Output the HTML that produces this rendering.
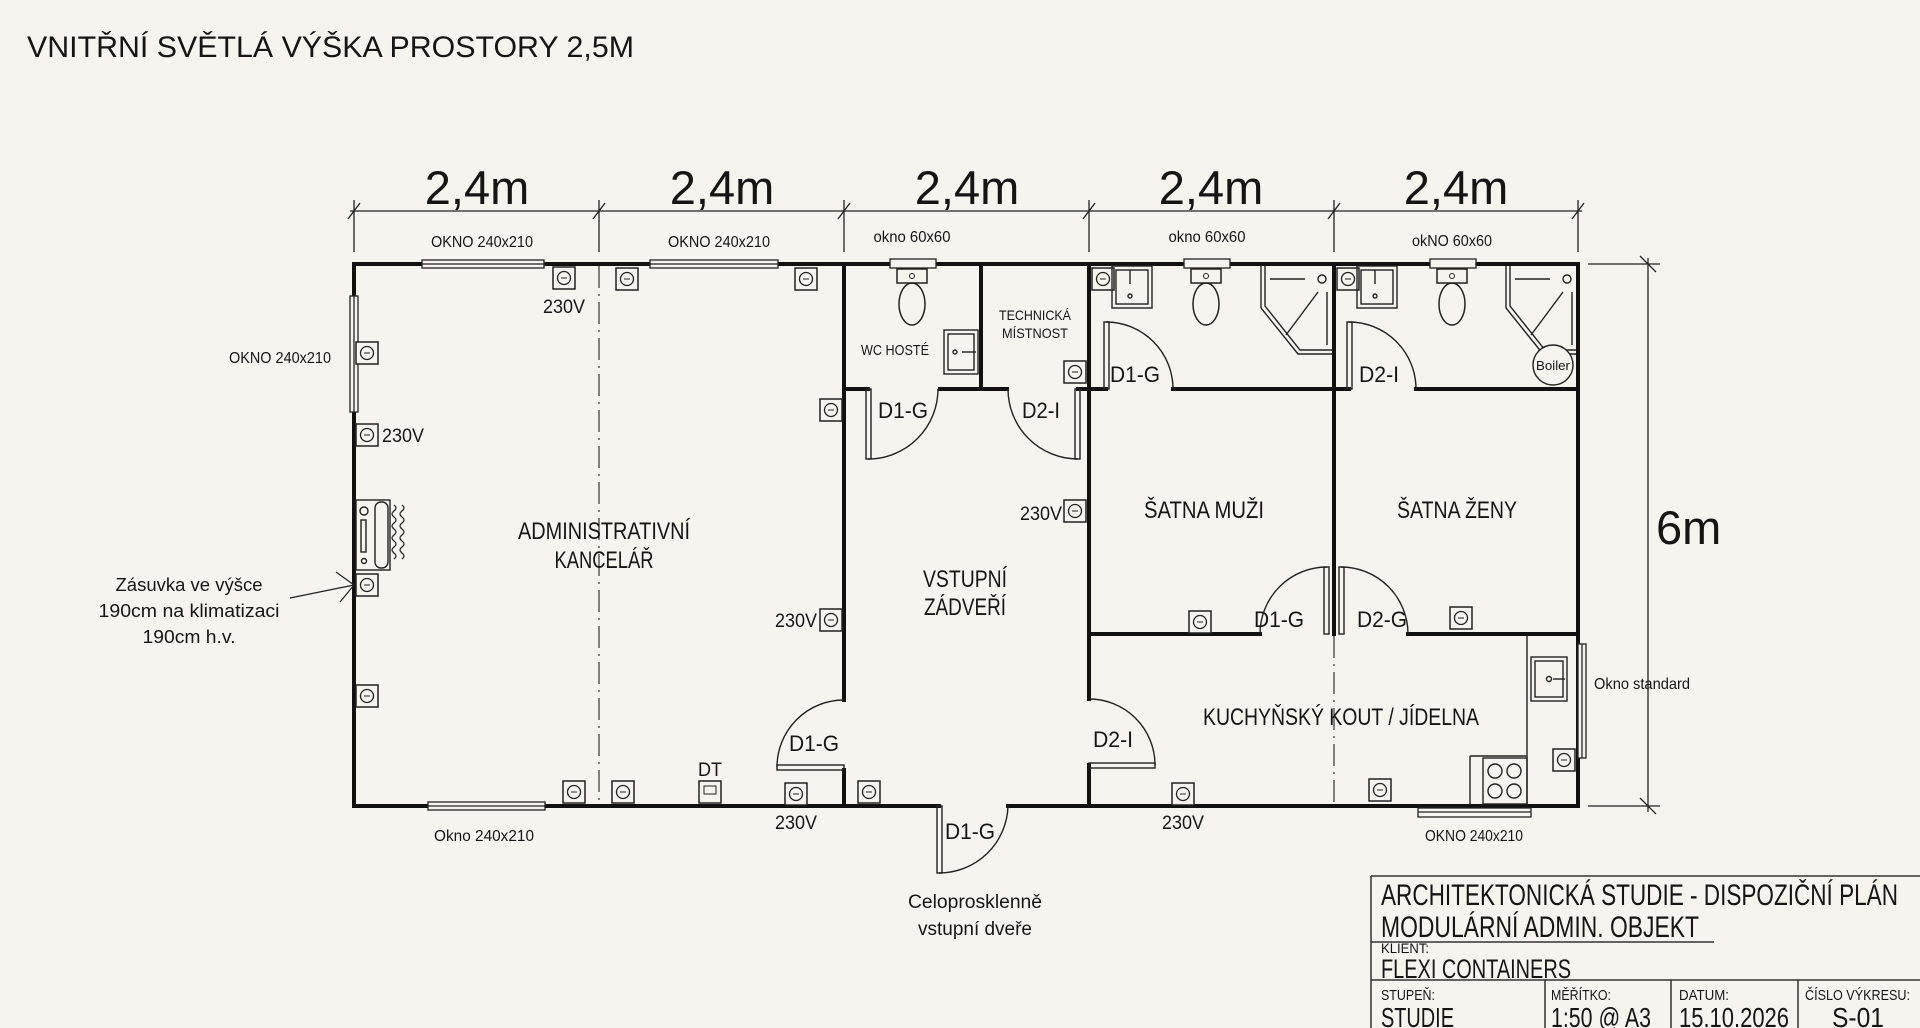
<!DOCTYPE html>
<html><head><meta charset="utf-8"><style>
html,body{margin:0;padding:0;background:#f6f4ef;}
svg{display:block;}
text{font-family:"Liberation Sans",sans-serif;fill:#151515;}
</style></head><body>
<svg width="1920" height="1028" viewBox="0 0 1920 1028" xmlns="http://www.w3.org/2000/svg">
<rect width="1920" height="1028" fill="#f6f4ef"/>
<defs>
<g id="sock"><rect x="-11" y="-11" width="22" height="22" fill="#f6f4ef" stroke="#222" stroke-width="1.5"/><circle r="6.5" fill="none" stroke="#222" stroke-width="1.3"/><line x1="-3" y1="0" x2="3" y2="0" stroke="#222" stroke-width="1"/></g>
<g id="toilet"><rect x="-15" y="-7" width="30" height="14" fill="#f6f4ef" stroke="#222" stroke-width="1.5"/><circle cx="0" cy="0" r="2.5" fill="none" stroke="#222"/><ellipse cx="0" cy="28" rx="13" ry="21" fill="none" stroke="#222" stroke-width="1.5"/></g>
</defs>

<text x="27" y="57" font-size="30" textLength="607" lengthAdjust="spacingAndGlyphs">VNITŘNÍ SVĚTLÁ VÝŠKA PROSTORY 2,5M</text>

<!-- dimension line -->
<g stroke="#222" stroke-width="1.3">
<line x1="350" y1="211" x2="1582" y2="211"/>
<line x1="354" y1="200" x2="354" y2="252"/><line x1="599" y1="200" x2="599" y2="252"/><line x1="844" y1="200" x2="844" y2="252"/><line x1="1089" y1="200" x2="1089" y2="252"/><line x1="1334" y1="200" x2="1334" y2="252"/><line x1="1578" y1="200" x2="1578" y2="252"/>
<line x1="348" y1="219" x2="360" y2="203"/><line x1="593" y1="219" x2="605" y2="203"/><line x1="838" y1="219" x2="850" y2="203"/><line x1="1083" y1="219" x2="1095" y2="203"/><line x1="1328" y1="219" x2="1340" y2="203"/><line x1="1572" y1="219" x2="1584" y2="203"/>
<!-- vertical dim -->
<line x1="1648" y1="258" x2="1648" y2="812"/>
<line x1="1588" y1="264" x2="1660" y2="264"/><line x1="1588" y1="806" x2="1660" y2="806"/>
<line x1="1640" y1="256" x2="1656" y2="272"/><line x1="1640" y1="798" x2="1656" y2="814"/>
</g>
<g font-size="47" text-anchor="middle">
<text x="477" y="204">2,4m</text><text x="722" y="204">2,4m</text><text x="967" y="204">2,4m</text><text x="1211" y="204">2,4m</text><text x="1456" y="204">2,4m</text>
</g>
<text x="1656" y="544" font-size="47">6m</text>

<!-- dash-dot lines -->
<g stroke="#333" stroke-width="1.2" stroke-dasharray="22 6 2 6" fill="none">
<line x1="599" y1="266" x2="599" y2="804"/>
<line x1="1334" y1="636" x2="1334" y2="804"/>
</g>

<!-- walls -->
<g stroke="#111" stroke-width="4" fill="none" stroke-linecap="square">
<line x1="354" y1="264" x2="1578" y2="264"/>
<line x1="354" y1="264" x2="354" y2="806"/>
<line x1="1578" y1="264" x2="1578" y2="806"/>
<line x1="354" y1="806" x2="939" y2="806"/>
<line x1="1008" y1="806" x2="1578" y2="806"/>
<line x1="844" y1="264" x2="844" y2="700"/>
<line x1="844" y1="770" x2="844" y2="806"/>
<line x1="844" y1="389" x2="868" y2="389"/>
<line x1="940" y1="389" x2="1007" y2="389"/>
<line x1="1078" y1="389" x2="1089" y2="389"/>
<line x1="981" y1="264" x2="981" y2="389"/>
<line x1="1089" y1="264" x2="1089" y2="699"/>
<line x1="1089" y1="765" x2="1089" y2="806"/>
<line x1="1089" y1="389" x2="1106" y2="389"/>
<line x1="1173" y1="389" x2="1349" y2="389"/>
<line x1="1416" y1="389" x2="1578" y2="389"/>
<line x1="1334" y1="264" x2="1334" y2="634"/>
<line x1="1089" y1="634" x2="1260" y2="634"/>
<line x1="1408" y1="634" x2="1578" y2="634"/>
</g>

<!-- doors -->
<g stroke="#222" stroke-width="1.4" fill="none">
<!-- D1-G office -->
<rect x="777" y="765" width="67" height="5"/><path d="M844 700 A67 67 0 0 0 777 767"/>
<!-- WC D1-G -->
<rect x="866" y="389" width="5" height="70"/><path d="M868 459 A70 70 0 0 0 938 389"/>
<!-- tech D2-I -->
<rect x="1075" y="389" width="5" height="70"/><path d="M1078 459 A70 70 0 0 1 1008 389"/>
<!-- D2-I kitchen -->
<rect x="1089" y="763" width="66" height="5"/><path d="M1089 699 A66 66 0 0 1 1155 765"/>
<!-- wash D1-G -->
<rect x="1104" y="322" width="5" height="67"/><path d="M1106 322 A67 67 0 0 1 1173 389"/>
<!-- wash D2-I -->
<rect x="1347" y="322" width="5" height="67"/><path d="M1349 322 A67 67 0 0 1 1416 389"/>
<!-- šatna D1-G -->
<rect x="1324" y="567" width="5" height="67"/><path d="M1327 567 A67 67 0 0 0 1260 634"/>
<!-- šatna D2-G -->
<rect x="1339" y="567" width="5" height="67"/><path d="M1341 567 A67 67 0 0 1 1408 634"/>
<!-- entrance -->
<rect x="937" y="806" width="5" height="67"/><path d="M939 873 A69 69 0 0 0 1008 806"/>
</g>

<!-- windows -->
<g fill="#f6f4ef" stroke="#222" stroke-width="1.3">
<rect x="422" y="260" width="122" height="8"/><line x1="422" y1="264" x2="544" y2="264"/>
<rect x="650" y="260" width="128" height="8"/><line x1="650" y1="264" x2="778" y2="264"/>
<rect x="890" y="259" width="46" height="9"/>
<rect x="1184" y="259" width="46" height="9"/>
<rect x="1430" y="259" width="46" height="9"/>
<rect x="350" y="296" width="8" height="116"/><line x1="354" y1="296" x2="354" y2="412"/>
<rect x="428" y="802" width="117" height="8"/><line x1="428" y1="806" x2="545" y2="806"/>
<rect x="1418" y="808" width="113" height="9"/><line x1="1418" y1="812" x2="1531" y2="812"/>
<rect x="1578" y="644" width="8" height="114"/><line x1="1582" y1="644" x2="1582" y2="758"/>
</g>

<!-- sockets -->
<use href="#sock" x="564" y="278"/><use href="#sock" x="627" y="279"/><use href="#sock" x="806" y="279"/>
<use href="#sock" x="367" y="353"/><use href="#sock" x="367" y="435"/><use href="#sock" x="367" y="585"/><use href="#sock" x="367" y="696"/>
<use href="#sock" x="831" y="410"/><use href="#sock" x="831" y="620"/>
<use href="#sock" x="574" y="792"/><use href="#sock" x="623" y="792"/><use href="#sock" x="796" y="794"/><use href="#sock" x="869" y="792"/>
<use href="#sock" x="1075" y="511"/><use href="#sock" x="1075" y="372"/>
<use href="#sock" x="1200" y="622"/><use href="#sock" x="1461" y="618"/>
<use href="#sock" x="1183" y="794"/><use href="#sock" x="1380" y="790"/><use href="#sock" x="1564" y="760"/>
<use href="#sock" x="1103" y="279"/><use href="#sock" x="1348" y="279"/>
<!-- DT -->
<rect x="699" y="781" width="22" height="22" fill="#f6f4ef" stroke="#222" stroke-width="1.5"/><rect x="704" y="786" width="12" height="8" fill="none" stroke="#222"/>

<!-- AC unit -->
<g stroke="#222" stroke-width="1.4" fill="#f6f4ef">
<rect x="356" y="500" width="34" height="70"/>
<rect x="375" y="502" width="13" height="66" rx="6"/>
<rect x="361" y="520" width="5" height="32"/>
<circle cx="364" cy="511" r="4"/>
<circle cx="364" cy="561" r="2.5"/>
</g>
<g stroke="#222" stroke-width="1.2" fill="none">
<path d="M394 505 q4 3 0 6 q-4 3 0 6 q4 3 0 6 q-4 3 0 6 q4 3 0 6 q-4 3 0 6 q4 3 0 6 q-4 3 0 6 q4 3 0 6"/>
<path d="M402 505 q4 3 0 6 q-4 3 0 6 q4 3 0 6 q-4 3 0 6 q4 3 0 6 q-4 3 0 6 q4 3 0 6 q-4 3 0 6 q4 3 0 6"/>
<!-- arrow -->
<line x1="290" y1="598" x2="354" y2="585"/>
<line x1="354" y1="585" x2="336" y2="572"/><line x1="354" y1="585" x2="340" y2="602"/>
</g>

<!-- toilets -->
<use href="#toilet" x="912" y="276"/><use href="#toilet" x="1206" y="276"/><use href="#toilet" x="1452" y="276"/>
<!-- sinks -->
<g stroke="#222" stroke-width="1.4" fill="none">
<rect x="944" y="330" width="34" height="44"/><rect x="948" y="334" width="26" height="36"/><circle cx="955" cy="352" r="2"/><line x1="962" y1="352" x2="976" y2="352"/>
<rect x="1112" y="266" width="40" height="42"/><rect x="1116" y="270" width="32" height="34"/><circle cx="1130" cy="296" r="2"/><line x1="1130" y1="270" x2="1130" y2="284"/>
<rect x="1357" y="266" width="40" height="42"/><rect x="1361" y="270" width="32" height="34"/><circle cx="1375" cy="296" r="2"/><line x1="1375" y1="270" x2="1375" y2="284"/>
<!-- showers -->
<path d="M1261 266 L1261 308 L1298 354 L1332 354"/><path d="M1265 266 L1265 306 L1300 350 L1332 350"/>
<line x1="1270" y1="279" x2="1305" y2="279"/><circle cx="1322" cy="279" r="4"/><line x1="1318" y1="292" x2="1286" y2="335"/><line x1="1327" y1="292" x2="1327" y2="345"/>
<path d="M1506 266 L1506 308 L1543 354 L1576 354"/><path d="M1510 266 L1510 306 L1545 350 L1576 350"/>
<line x1="1515" y1="279" x2="1550" y2="279"/><circle cx="1567" cy="279" r="4"/><line x1="1563" y1="292" x2="1531" y2="335"/><line x1="1572" y1="292" x2="1572" y2="345"/>
<circle cx="1553" cy="365" r="20" fill="#f6f4ef"/>
<!-- kitchen -->
<line x1="1527" y1="636" x2="1527" y2="804"/>
<rect x="1531" y="657" width="36" height="44"/><rect x="1535" y="661" width="28" height="36"/><circle cx="1549" cy="679" r="2.5"/><line x1="1553" y1="679" x2="1565" y2="679"/>
<rect x="1470" y="756" width="0" height="0"/>
<line x1="1470" y1="756" x2="1527" y2="756"/><line x1="1470" y1="756" x2="1470" y2="804"/>
<rect x="1483" y="758" width="44" height="46"/>
<circle cx="1495" cy="771" r="7"/><circle cx="1514" cy="771" r="7"/><circle cx="1495" cy="791" r="7"/><circle cx="1514" cy="791" r="7"/>
</g>

<!-- labels -->
<g font-size="16" text-anchor="middle">
<text x="482" y="247" textLength="102" lengthAdjust="spacingAndGlyphs">OKNO 240x210</text>
<text x="719" y="247" textLength="102" lengthAdjust="spacingAndGlyphs">OKNO 240x210</text>
<text x="912" y="242" textLength="77" lengthAdjust="spacingAndGlyphs">okno 60x60</text>
<text x="1207" y="242" textLength="77" lengthAdjust="spacingAndGlyphs">okno 60x60</text>
<text x="1452" y="246" textLength="80" lengthAdjust="spacingAndGlyphs">okNO 60x60</text>
<text x="484" y="841" textLength="100" lengthAdjust="spacingAndGlyphs">Okno 240x210</text>
<text x="1474" y="841" textLength="98" lengthAdjust="spacingAndGlyphs">OKNO 240x210</text>
</g>
<text x="331" y="363" font-size="16" text-anchor="end" textLength="102" lengthAdjust="spacingAndGlyphs">OKNO 240x210</text>
<text x="1594" y="689" font-size="16" textLength="96" lengthAdjust="spacingAndGlyphs">Okno standard</text>

<g font-size="19">
<text x="564" y="313" text-anchor="middle" textLength="42" lengthAdjust="spacingAndGlyphs">230V</text>
<text x="382" y="442" textLength="42" lengthAdjust="spacingAndGlyphs">230V</text>
<text x="1062" y="520" text-anchor="end" textLength="42" lengthAdjust="spacingAndGlyphs">230V</text>
<text x="817" y="627" text-anchor="end" textLength="42" lengthAdjust="spacingAndGlyphs">230V</text>
<text x="796" y="829" text-anchor="middle" textLength="42" lengthAdjust="spacingAndGlyphs">230V</text>
<text x="1183" y="829" text-anchor="middle" textLength="42" lengthAdjust="spacingAndGlyphs">230V</text>
<text x="710" y="776" text-anchor="middle" textLength="24" lengthAdjust="spacingAndGlyphs">DT</text>
</g>

<g font-size="18" text-anchor="middle">
<text x="189" y="591" textLength="147" lengthAdjust="spacingAndGlyphs">Zásuvka ve výšce</text>
<text x="189" y="617" textLength="181" lengthAdjust="spacingAndGlyphs">190cm na klimatizaci</text>
<text x="189" y="643" textLength="93" lengthAdjust="spacingAndGlyphs">190cm h.v.</text>
<text x="975" y="908" font-size="19" textLength="134" lengthAdjust="spacingAndGlyphs">Celoprosklenně</text>
<text x="975" y="935" font-size="19" textLength="114" lengthAdjust="spacingAndGlyphs">vstupní dveře</text>
</g>

<g font-size="24" text-anchor="middle">
<text x="604" y="539" textLength="172" lengthAdjust="spacingAndGlyphs">ADMINISTRATIVNÍ</text>
<text x="604" y="568" textLength="99" lengthAdjust="spacingAndGlyphs">KANCELÁŘ</text>
<text x="965" y="587" textLength="84" lengthAdjust="spacingAndGlyphs">VSTUPNÍ</text>
<text x="965" y="615" textLength="82" lengthAdjust="spacingAndGlyphs">ZÁDVEŘÍ</text>
<text x="1204" y="518" textLength="120" lengthAdjust="spacingAndGlyphs">ŠATNA MUŽI</text>
<text x="1457" y="518" textLength="120" lengthAdjust="spacingAndGlyphs">ŠATNA ŽENY</text>
<text x="1341" y="725" textLength="276" lengthAdjust="spacingAndGlyphs">KUCHYŇSKÝ KOUT / JÍDELNA</text>
</g>

<g font-size="14" text-anchor="middle">
<text x="895" y="355" font-size="15" textLength="68" lengthAdjust="spacingAndGlyphs">WC HOSTÉ</text>
<text x="1035" y="320" textLength="72" lengthAdjust="spacingAndGlyphs">TECHNICKÁ</text>
<text x="1035" y="338" textLength="66" lengthAdjust="spacingAndGlyphs">MÍSTNOST</text>
<text x="1553" y="370" font-size="13" textLength="34" lengthAdjust="spacingAndGlyphs">Boiler</text>
</g>

<g font-size="22">
<text x="878" y="418" textLength="50" lengthAdjust="spacingAndGlyphs">D1-G</text>
<text x="1022" y="418" textLength="38" lengthAdjust="spacingAndGlyphs">D2-I</text>
<text x="1110" y="382" textLength="50" lengthAdjust="spacingAndGlyphs">D1-G</text>
<text x="1359" y="382" textLength="40" lengthAdjust="spacingAndGlyphs">D2-I</text>
<text x="1254" y="627" textLength="50" lengthAdjust="spacingAndGlyphs">D1-G</text>
<text x="1357" y="627" textLength="50" lengthAdjust="spacingAndGlyphs">D2-G</text>
<text x="789" y="751" textLength="50" lengthAdjust="spacingAndGlyphs">D1-G</text>
<text x="1093" y="747" textLength="40" lengthAdjust="spacingAndGlyphs">D2-I</text>
<text x="945" y="839" textLength="50" lengthAdjust="spacingAndGlyphs">D1-G</text>
</g>

<!-- title block -->
<g stroke="#333" stroke-width="1.5">
<line x1="1371" y1="876" x2="1920" y2="876"/>
<line x1="1371" y1="876" x2="1371" y2="1028"/>
<line x1="1371" y1="942" x2="1714" y2="942"/>
<line x1="1371" y1="980" x2="1920" y2="980"/>
<line x1="1545" y1="980" x2="1545" y2="1028"/>
<line x1="1671" y1="980" x2="1671" y2="1028"/>
<line x1="1798" y1="980" x2="1798" y2="1028"/>
</g>
<text x="1381" y="905" font-size="30" textLength="517" lengthAdjust="spacingAndGlyphs">ARCHITEKTONICKÁ STUDIE - DISPOZIČNÍ PLÁN</text>
<text x="1381" y="937" font-size="30" textLength="318" lengthAdjust="spacingAndGlyphs">MODULÁRNÍ ADMIN. OBJEKT</text>
<text x="1381" y="953" font-size="14" textLength="48" lengthAdjust="spacingAndGlyphs">KLIENT:</text>
<text x="1381" y="978" font-size="27" textLength="190" lengthAdjust="spacingAndGlyphs">FLEXI CONTAINERS</text>
<g font-size="15">
<text x="1381" y="1000" textLength="54" lengthAdjust="spacingAndGlyphs">STUPEŇ:</text>
<text x="1551" y="1000" textLength="60" lengthAdjust="spacingAndGlyphs">MĚŘÍTKO:</text>
<text x="1679" y="1000" textLength="50" lengthAdjust="spacingAndGlyphs">DATUM:</text>
<text x="1805" y="1000" textLength="105" lengthAdjust="spacingAndGlyphs">ČÍSLO VÝKRESU:</text>
</g>
<g font-size="28">
<text x="1381" y="1027" textLength="73" lengthAdjust="spacingAndGlyphs">STUDIE</text>
<text x="1551" y="1027" textLength="100" lengthAdjust="spacingAndGlyphs">1:50 @ A3</text>
<text x="1679" y="1027" textLength="110" lengthAdjust="spacingAndGlyphs">15.10.2026</text>
<text x="1858" y="1027" text-anchor="middle" textLength="52" lengthAdjust="spacingAndGlyphs">S-01</text>
</g>
</svg>
</body></html>
